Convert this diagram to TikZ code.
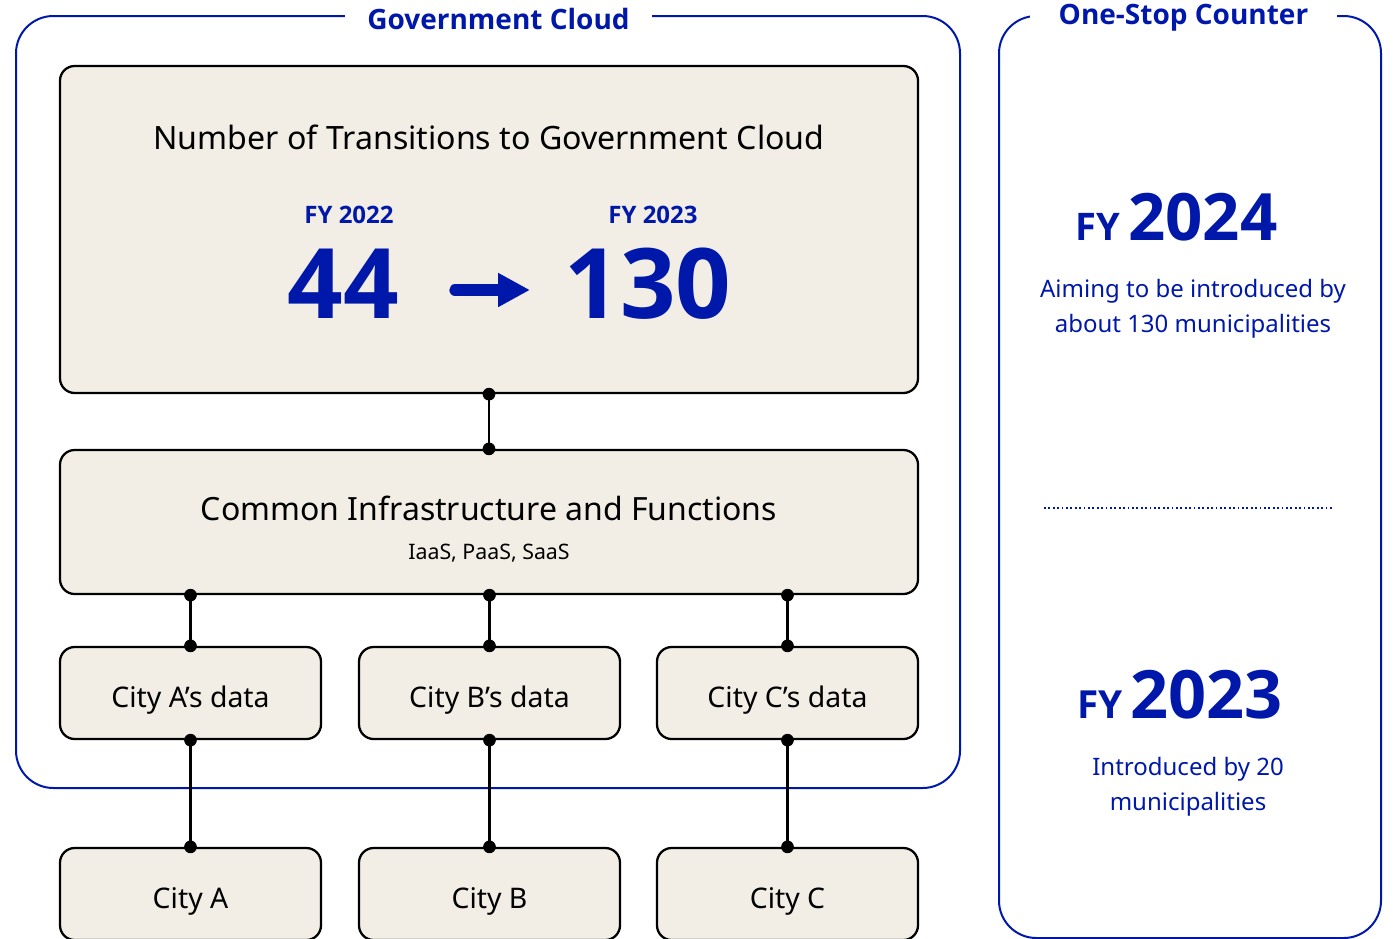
\documentclass[tikz,border=0pt]{standalone}
\usepackage{fontspec}
\setmainfont{Noto Sans}
\newfontfamily\strongfont{Open Sans}
\usepackage{xcolor}
\usetikzlibrary{arrows.meta}

\definecolor{govblue}{RGB}{0,24,170}
\definecolor{boxfill}{RGB}{242,238,230}

\tikzset{
  panel/.style={draw=black, line width=1.7pt, fill=boxfill, rounded corners=11pt, inner sep=0pt},
  frame/.style={draw=govblue, line width=1.5pt, rounded corners=28pt},
  heading/.style={fill=white, text=govblue, inner xsep=0pt, inner ysep=2pt,
    font=\fontsize{21}{25}\selectfont\strongfont\bfseries},
  conn/.style={line width=1.6pt},
  pin/.style={circle, fill=black, inner sep=0pt, minimum size=9.5pt},
  bluetext/.style={text=govblue, align=center, font=\fontsize{18}{26.5}\selectfont},
  citybox/.style={panel, minimum width=195.75pt, minimum height=69pt},
  citylabel/.style={font=\fontsize{21.3}{24}\selectfont},
}

\begin{document}
\begin{tikzpicture}[x=0.75pt, y=-0.75pt]
  \useasboundingbox (0,0) rectangle (1393,939);
  \clip (0,0) rectangle (1393,939);

  % Government Cloud frame
  \draw[frame] (16,16) rectangle (960,788);
  \node[heading, minimum width=230pt] (govtitle) at (498.5,19) {Government Cloud};

  % One-Stop Counter frame
  \draw[frame] (999,16) rectangle (1381,938);
  \node[heading, minimum width=230pt] (osctitle) at (1183.5,18) {One-Stop Counter};

  % Transitions box
  \node[panel, minimum width=643.5pt, minimum height=245.25pt] (trans) at (489,229.5) {};
  \node[font=\fontsize{24.1}{28}\selectfont] (transtitle) at (489,137) {Number of Transitions to Government Cloud};
  \node[text=govblue, font=\fontsize{18}{20}\selectfont\strongfont\bfseries] (fy22) at (349,215) {FY 2022};
  \node[text=govblue, font=\fontsize{18}{20}\selectfont\strongfont\bfseries] (fy23) at (653,215) {FY 2023};
  \node[text=govblue, font=\fontsize{73}{80}\selectfont\strongfont\bfseries, anchor=base] (n44) at (343,318) {44};
  \node[text=govblue, font=\fontsize{73}{80}\selectfont\strongfont\bfseries, anchor=base] (n130) at (648,318) {130};
  \coordinate (arrS) at (455,290);
  \coordinate (arrE) at (530,290);
  \draw[govblue, line width=8.5pt, line cap=round, -{Triangle[length=24pt, width=24pt]}] (arrS) -- (arrE);

  % Common infrastructure box
  \node[panel, minimum width=643.5pt, minimum height=108pt] (common) at (489,522) {};
  \node[font=\fontsize{24}{28}\selectfont] (commontitle) at (489,508) {Common Infrastructure and Functions};
  \node[font=\fontsize{16}{19}\selectfont] (commonsub) at (489,553) {IaaS, PaaS, SaaS};

  % data boxes
  \node[citybox] (dataA) at (190.5,693) {};
  \node[citybox] (dataB) at (489.5,693) {};
  \node[citybox] (dataC) at (787.5,693) {};
  \node[citylabel] (dataAtext) at (190.5,700) {City A’s data};
  \node[citylabel] (dataBtext) at (489.5,700) {City B’s data};
  \node[citylabel] (dataCtext) at (787.5,700) {City C’s data};

  % city boxes
  \node[citybox] (cityA) at (190.5,894) {};
  \node[citybox] (cityB) at (489.5,894) {};
  \node[citybox] (cityC) at (787.5,894) {};
  \node[citylabel] (cityAtext) at (190.5,901) {City A};
  \node[citylabel] (cityBtext) at (489.5,901) {City B};
  \node[citylabel] (cityCtext) at (787.5,901) {City C};

  % connectors
  \draw[conn] (trans.south) -- (common.north);
  \node[pin] at (trans.south) {};
  \node[pin] at (common.north) {};
  \foreach \d/\c in {dataA/cityA, dataB/cityB, dataC/cityC}{
    \draw[conn] (common.south -| \d.north) -- (\d.north);
    \draw[conn] (\d.south) -- (\c.north);
    \node[pin] at (common.south -| \d.north) {};
    \node[pin] at (\d.north) {};
    \node[pin] at (\d.south) {};
    \node[pin] at (\c.north) {};
  }

  % One-Stop Counter contents
  \node[text=govblue, anchor=base, font=\strongfont\bfseries] (fy24big) at (1176.5,240)
    {{\fontsize{28.5}{30}\selectfont FY}\hspace{6pt}{\fontsize{49}{55}\selectfont 2024}};
  \node[bluetext] (aim) at (1193,309) {Aiming to be introduced by\\about 130 municipalities};
  \draw[govblue, dotted, line width=1.3pt] (1044,508) -- (1334,508);
  \node[text=govblue, anchor=base, font=\strongfont\bfseries] (fy23big) at (1180,718)
    {{\fontsize{29}{30}\selectfont FY}\hspace{6pt}{\fontsize{50}{55}\selectfont 2023}};
  \node[bluetext] (intro) at (1188,787) {Introduced by 20\\municipalities};
\end{tikzpicture}
\end{document}
